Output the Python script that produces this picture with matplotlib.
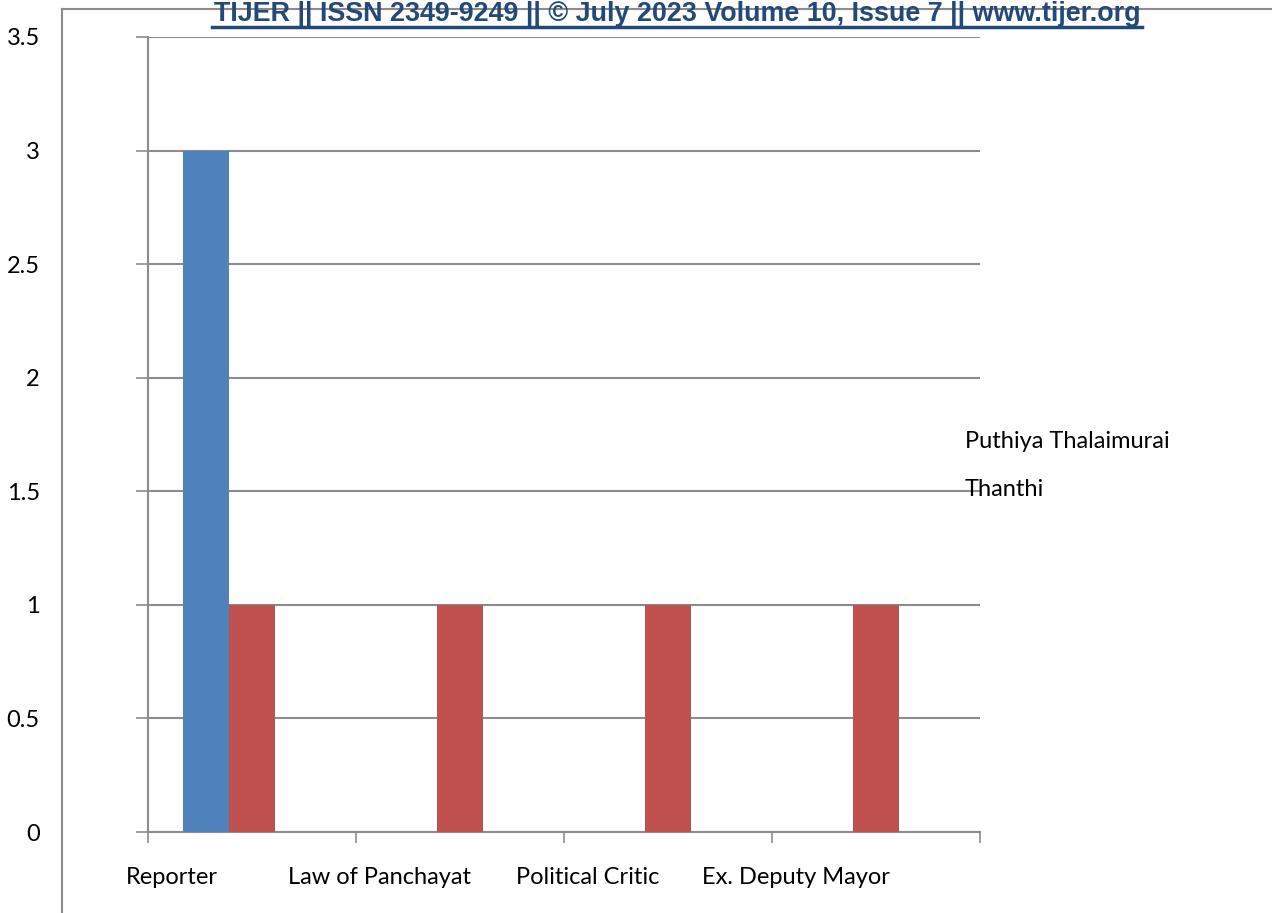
import matplotlib
matplotlib.use('Agg')
import matplotlib.pyplot as plt
from matplotlib.lines import Line2D
import numpy as np

categories = ['Reporter', 'Law of Panchayat', 'Political Critic', 'Ex. Deputy Mayor']
series_names = ['Puthiya Thalaimurai', 'Thanthi']
puthiya = [3, 0, 0, 0]
thanthi = [1, 1, 1, 1]
y_ticks = [0, 0.5, 1, 1.5, 2, 2.5, 3, 3.5]
y_tick_labels = ['0', '0.5', '1', '1.5', '2', '2.5', '3', '3.5']
header = 'TIJER || ISSN 2349-9249 || \u00a9 July 2023 Volume 10, Issue 7 || www.tijer.org'

plt.rcParams['font.family'] = ['Lato', 'DejaVu Sans']

fig = plt.figure(figsize=(12.72, 9.13), dpi=100)
ax = fig.add_axes([0.1164, 0.0887, 0.654, 0.8708])

x = np.arange(len(categories))
bw = 1 / 4.5  # three slots per category, Excel gap width 150%
ax.bar(x - bw, puthiya, bw, color='#4F81BD', zorder=3)
ax.bar(x, thanthi, bw, color='#C0504D', zorder=3)

ax.set_xlim(-0.5, len(categories) - 0.5)
ax.set_ylim(0, 3.5)
ax.set_yticks(y_ticks)
ax.set_yticklabels(y_tick_labels, fontsize=17)
ax.yaxis.grid(True, color='#8c8c8c', linewidth=1.5, zorder=0)
ax.tick_params(axis='y', length=9, width=1.2, color='#8c8c8c', pad=69)

# category boundaries as major ticks, labels slightly left of center
ax.set_xticks(np.arange(len(categories) + 1) - 0.5)
ax.set_xticklabels([])
ax.set_xticks(x - 0.385, minor=True)
ax.set_xticklabels(categories, minor=True, fontsize=17)
ax.tick_params(axis='x', which='major', length=8, width=1.2, color='#8c8c8c')
ax.tick_params(axis='x', which='minor', length=0, pad=25)

for side in ['top', 'right']:
    ax.spines[side].set_visible(False)
for side in ['left', 'bottom']:
    ax.spines[side].set_color('#8c8c8c')
    ax.spines[side].set_linewidth(1.5)

# legend as plain text entries
fig.text(965 / 1272, 1 - 441 / 913, series_names[0], fontsize=17, va='center', ha='left')
fig.text(965 / 1272, 1 - 489 / 913, series_names[1], fontsize=17, va='center', ha='left')

# page frame and journal header
fig.add_artist(Line2D([62 / 1272, 62 / 1272], [0, 1 - 9 / 913], color='#8c8c8c', linewidth=1.5))
fig.add_artist(Line2D([62 / 1272, 1], [1 - 9 / 913, 1 - 9 / 913], color='#8c8c8c', linewidth=1.5))
fig.text(677 / 1272, 1 - 21 / 913, header, fontsize=19.4, fontweight='bold',
         family=['Liberation Sans', 'DejaVu Sans'], color='#23487A', ha='center', va='baseline')
fig.add_artist(Line2D([212 / 1272, 1142 / 1272], [1 - 27 / 913, 1 - 27 / 913],
                      color='#23487A', linewidth=2.5))

plt.savefig('out.png', dpi=100)
plt.close()
